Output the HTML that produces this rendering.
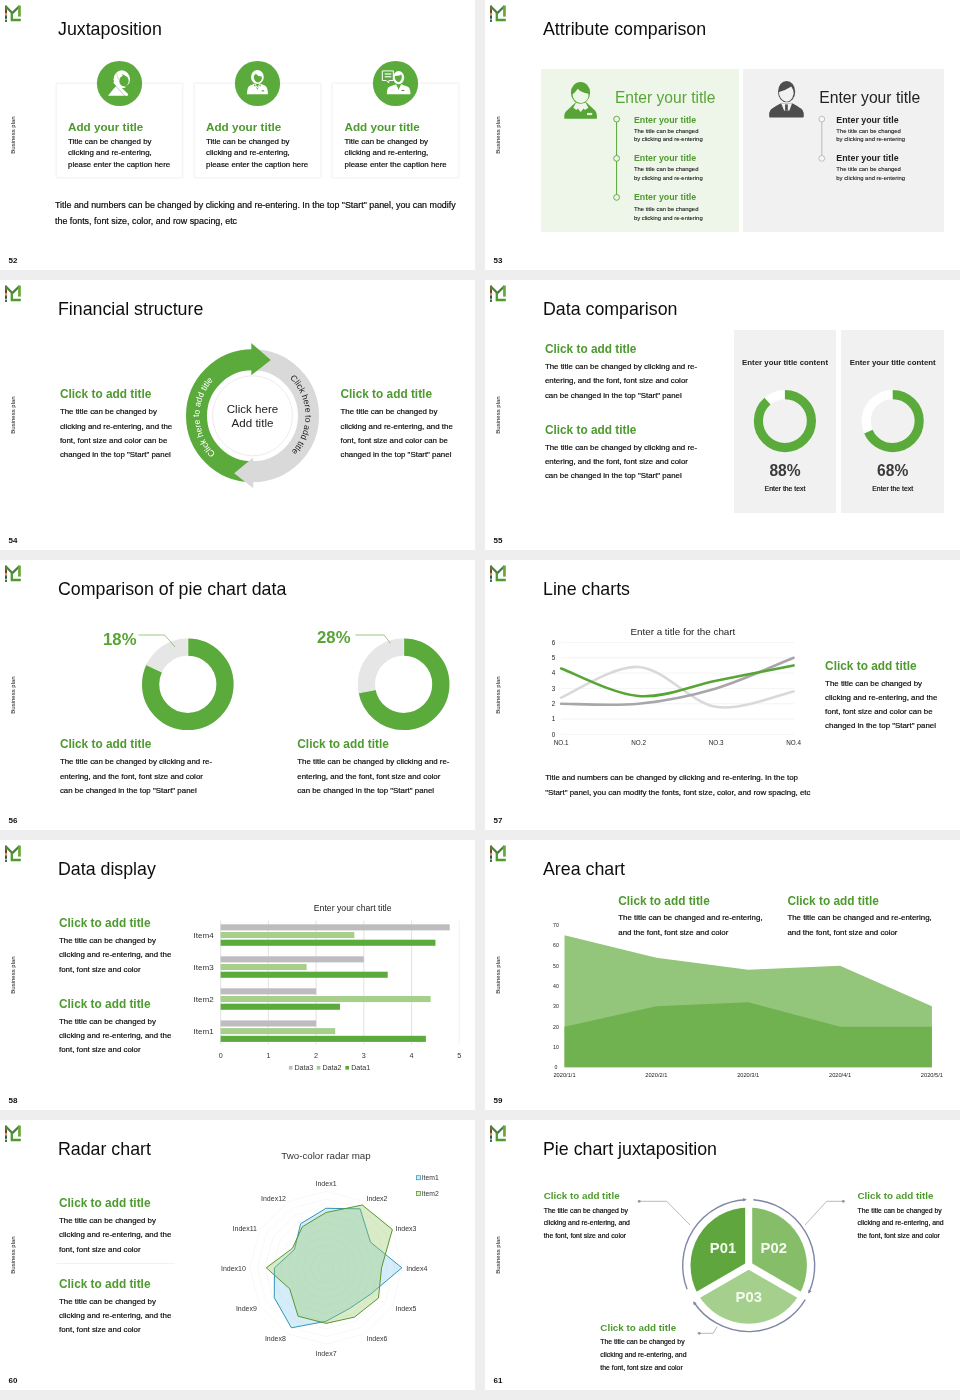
<!DOCTYPE html>
<html><head><meta charset="utf-8"><title>Slides</title>
<style>
html,body{margin:0;padding:0}
body{width:960px;height:1400px;background:#eeeeee;position:relative;overflow:hidden;font-family:"Liberation Sans",sans-serif;color:#111}
.s{position:absolute;width:475px;height:270px;background:#fff;overflow:hidden;will-change:transform}
.s *{position:absolute;white-space:nowrap;margin:0}
.s svg *{position:static}
.t{left:58px;top:19px;font-size:17.8px;line-height:20px;color:#0d0d0d}
.g{color:#4f9a30;font-weight:700;font-size:11.85px;line-height:14px}
.b{font-size:7.9px;line-height:14.3px;color:#151515}
.pn{left:8.5px;top:256.5px;font-size:8px;font-weight:700;line-height:8px;color:#111}
.bp{left:-6.7px;top:132px;width:40px;text-align:center;font-size:6px;line-height:6px;color:#111;transform:rotate(-90deg)}
.lg{left:4px;top:5px;width:18px;height:18px}
.card{top:83px;width:127px;height:94.5px;border:1px solid #f5f5f5;box-sizing:border-box;box-shadow:0 0 2px rgba(0,0,0,.07)}
.circ{top:60.7px;width:45px;height:45px;overflow:visible}
.j{top:120px;font-size:11.7px;line-height:14px}
.jb{top:135.5px;font-size:7.9px;line-height:11.5px;color:#111}
.jp{font-size:8.88px;line-height:15.7px;color:#111}
.at{font-size:8.83px;line-height:10px;font-weight:700}
.ab{font-size:5.9px;line-height:8.5px;color:#222}
.dc{top:77.400px;width:100px;text-align:center;font-size:7.87px;line-height:10px;font-weight:700;color:#222}
.dn{top:181.100px;width:100px;text-align:center;font-size:15.6px;line-height:18px;font-weight:700;color:#3a3a3a}
.de{top:203.500px;width:100px;text-align:center;font-size:6.86px;line-height:9px;color:#222}
.pc{font-size:16.7px;line-height:19px;font-weight:700;color:#58a436}
.b,.jb,.jp,.de{-webkit-text-stroke:.18px #111;color:#000}
.ab{-webkit-text-stroke:.08px #222;color:#111}
.s .g{margin-top:.15px}
.s .at{margin-top:-.2px}
.s .b,.s .ab,.s .dc,.s .dn,.s .de,.s .pc{margin-top:.55px}
</style></head><body>
<svg width="0" height="0" style="position:absolute"><defs>
<g id="logo"><rect x="1" y="0.5" width="2" height="4.5" fill="#6d6a38"/><rect x="1" y="5" width="2" height="3.6" fill="#74481c"/><rect x="1" y="8.600" width="2" height="1.800" fill="#dc9a62"/><rect x="1" y="10.400" width="2" height="3.400" fill="#2f5c48"/><rect x="1" y="14.600" width="2" height="2.300" fill="#3a6a44"/>
<path d="M1.600 1.200 L8.500 8.200" fill="none" stroke="#52803c" stroke-width="2.300"/><path d="M8.200 8.300 L15.600 1" fill="none" stroke="#41803a" stroke-width="2.300"/>
<path d="M15.450 0.600 V11.600" fill="none" stroke="#69a636" stroke-width="2.700"/>
<path d="M7.800 8 V15 H16.800" fill="none" stroke="#4f9a30" stroke-width="2.300"/></g>
</defs></svg>
<div class="s" style="left:0px;top:0px"><svg class="lg" viewBox="0 0 18 18"><use href="#logo"/></svg><div class="t">Juxtaposition</div><div class="bp">Business plan</div><div class="pn">52</div>
<div class="card" style="left:55.5px"></div><div class="card" style="left:194px"></div><div class="card" style="left:332px"></div>
<svg class="circ" style="left:96.9px" viewBox="0 0 45 45"><circle cx="22.5" cy="22.5" r="22.6" fill="#5bab3c"/>
<ellipse cx="24.8" cy="18.3" rx="8.2" ry="9" fill="#fff"/><ellipse cx="27" cy="19.9" rx="4.7" ry="5.3" fill="#5bab3c"/><path d="M24.6 13 l1.400 2 l2.400 -.4z" fill="#5bab3c"/>
<path d="M27.500 25.500 L34 30 L34 22z" fill="#5bab3c"/>
<path d="M11.100 34.700 L16 28.500 L19.200 25 L22.500 26.500 L31.200 34.700z" fill="#fff"/>
<path d="M17 21 L30.500 34" stroke="#fff" stroke-width="2.400" fill="none"/>
<path d="M18.800 25.200 L27.600 34.700" stroke="#5bab3c" stroke-width=".5" fill="none"/><path d="M19.500 12.500 L21.500 18.500" stroke="#5bab3c" stroke-width=".4" fill="none"/></svg>
<svg class="circ" style="left:234.8px" viewBox="0 0 45 45"><circle cx="22.5" cy="22.5" r="22.6" fill="#5bab3c"/>
<ellipse cx="22.4" cy="16" rx="6.4" ry="7" fill="#fff"/><path d="M18.6 15.8 q1.2 -2.4 2.2 -3 q2.2 3 6 2.6 q.4 4.8 -3.6 6.2 q-4 -.6 -4.6 -5.8z" fill="#5bab3c"/>
<path d="M12 33.3 q0 -8 3.5 -9 l4.5 -1.8 l2.4 3.6 l2.4 -3.6 l4.5 1.8 q3.6 1 3.6 9z" fill="#fff"/>
<path d="M19.4 23 l3 4.4 l3 -4.4 l.4 2.6 l-1.6 -.6 l-1.8 4 l-1.8 -4 l-1.6 .6z" fill="#5bab3c"/><rect x="26.6" y="29.4" width="2.6" height=".9" fill="#3d7d2a"/></svg>
<svg class="circ" style="left:373.2px" viewBox="0 0 45 45"><circle cx="22.5" cy="22.5" r="22.6" fill="#5bab3c"/>
<path d="M9.3 9.9 h11 v9.6 h-4.4 l-.2 2.4 l-2.4 -2.4 h-4z" fill="none" stroke="#fff" stroke-width="1"/><rect x="11.7" y="12.4" width="6.6" height="1.2" fill="#fff"/><rect x="11.7" y="15" width="6.6" height="1.4" fill="#fff" opacity=".8"/>
<ellipse cx="25.6" cy="16.6" rx="5.6" ry="6.6" fill="#fff"/><path d="M21.6 16.2 q.6 -1.6 2 -1.4 q2.4 .4 4.8 -1.4 q1.4 5 -2.4 7.8 q-3.6 -.6 -4.4 -5z" fill="#5bab3c"/>
<path d="M13.8 33.2 q0 -7 3.2 -7.8 l6 -2.2 l2.6 5 l2.6 -5 l6 2.2 q3.3 .8 3.3 7.800z" fill="#fff"/><path d="M24.6 24 l1 5.400 l1 -5.400z" fill="#5bab3c"/><rect x="28.6" y="29" width="2.6" height=".9" fill="#3d6d2a"/></svg>
<div class="g j" style="left:68px">Add your title</div><div class="g j" style="left:206px">Add your title</div><div class="g j" style="left:344.5px">Add your title</div>
<div class="jb" style="left:68px">Title can be changed by<br>clicking and re-entering,<br>please enter the caption here</div>
<div class="jb" style="left:206px">Title can be changed by<br>clicking and re-entering,<br>please enter the caption here</div>
<div class="jb" style="left:344.5px">Title can be changed by<br>clicking and re-entering,<br>please enter the caption here</div>
<div class="jp" style="left:55px;top:198.4px">Title and numbers can be changed by clicking and re-entering. In the top "Start" panel, you can modify<br>the fonts, font size, color, and row spacing, etc</div>
</div>
<div class="s" style="left:485px;top:0px"><svg class="lg" viewBox="0 0 18 18"><use href="#logo"/></svg><div class="t">Attribute comparison</div><div class="bp">Business plan</div><div class="pn">53</div>
<div style="left:55.5px;top:68.7px;width:198px;height:163px;background:#eef6ea"></div>
<div style="left:257.6px;top:68.7px;width:201.3px;height:163px;background:#f1f1f1"></div>
<svg style="left:79px;top:82px;width:34px;height:38px;overflow:visible" viewBox="0 0 34 38">
<path d="M0.300 36.800 Q-0.200 31.500 2.200 29.300 L11.500 20.600 L22.500 20.600 L31 28.600 Q33.400 31.500 32.900 36.800 Z" fill="#58a436"/>
<path d="M9.300 25.800 L11.800 21 L21.800 21 L24.400 25.800 L21 28 L19.600 26.400 L16.700 30 L13.800 26.400 L12.400 28 Z" fill="#eef6ea"/>
<rect x="23" y="30.900" width="5.200" height="2.200" fill="#e3f3d6"/>
<ellipse cx="16.500" cy="10.800" rx="9.600" ry="10.900" fill="#58a436"/>
<path d="M8.600 12.600 Q11.500 10 13.800 6.800 Q17.500 11 24.400 11.700 Q25 16 22 19 Q19 21.200 16.500 21 Q13 21 10.500 18 Q8.400 15.500 8.600 12.600Z" fill="#eef6ea"/></svg>
<svg style="left:284px;top:80.750px;width:35px;height:37px;overflow:visible" viewBox="0 0 35 37">
<path d="M0.200 35.500 Q-0.200 31 1.500 29 Q3 27 11.500 22.500 L23.800 22.500 Q32 27 33.500 29 Q35.200 31.500 34.800 35.500 Q34.800 36.400 34 36.400 L1 36.400 Q0.200 36.400 0.200 35.500Z" fill="#4d4d4d"/>
<path d="M12.200 22.400 L15.060 29.400 L20.400 29.400 L23 22.400 Z" fill="#f1f1f1"/><rect x="16.100" y="23.400" width="2.700" height="6.100" fill="#4d4d4d"/>
<ellipse cx="17.600" cy="10.650" rx="8.600" ry="10.700" fill="#4d4d4d"/>
<path d="M10 11 Q16 9.500 22.300 5.400 Q24.600 8.500 24.700 12.500 Q24 17 21 19.500 Q18.500 21 16.500 20.600 Q12 19 10.300 14 Z" fill="#f1f1f1"/></svg>
<div style="left:129.900px;top:89.200px;font-size:15.600px;line-height:18px;color:#5aa53a">Enter your title</div>
<div style="left:334.200px;top:89.200px;font-size:15.700px;line-height:18px;color:#222">Enter your title</div>
<svg style="left:0;top:0;width:475px;height:270px" viewBox="0 0 475 270">
<path d="M131.600 119.100 V197.400" stroke="#58a436" stroke-width="1" fill="none"/>
<circle cx="131.600" cy="119.100" r="2.900" fill="#eef6ea" stroke="#58a436" stroke-width=".9"/><circle cx="131.600" cy="158.400" r="2.900" fill="#eef6ea" stroke="#58a436" stroke-width=".9"/><circle cx="131.600" cy="197.400" r="2.900" fill="#eef6ea" stroke="#58a436" stroke-width=".9"/>
<path d="M336.800 119.100 V158.400" stroke="#b9b9b9" stroke-width="1" fill="none"/>
<circle cx="336.800" cy="119.100" r="2.900" fill="#f6f6f6" stroke="#b9b9b9" stroke-width=".9"/><circle cx="336.800" cy="158.400" r="2.900" fill="#f6f6f6" stroke="#b9b9b9" stroke-width=".9"/></svg>
<div class="at g" style="left:148.900px;top:114.800px">Enter your title</div><div class="ab" style="left:148.900px;top:126.300px">The title can be changed<br>by clicking and re-entering</div>
<div class="at g" style="left:148.900px;top:153.100px">Enter your title</div><div class="ab" style="left:148.900px;top:164.800px">The title can be changed<br>by clicking and re-entering</div>
<div class="at g" style="left:148.900px;top:192.600px">Enter your title</div><div class="ab" style="left:148.900px;top:204.500px">The title can be changed<br>by clicking and re-entering</div>
<div class="at" style="left:351.300px;top:115px;color:#222">Enter your title</div><div class="ab" style="left:351.300px;top:126.300px">The title can be changed<br>by clicking and re-entering</div>
<div class="at" style="left:351.300px;top:153.200px;color:#222">Enter your title</div><div class="ab" style="left:351.300px;top:164.800px">The title can be changed<br>by clicking and re-entering</div>
</div>
<div class="s" style="left:0px;top:280px"><svg class="lg" viewBox="0 0 18 18"><use href="#logo"/></svg><div class="t">Financial structure</div><div class="bp">Business plan</div><div class="pn">54</div>
<div class="g" style="left:59.900px;top:107.100px">Click to add title</div>
<div class="b" style="left:59.900px;top:124.800px">The title can be changed by<br>clicking and re-entering, and the<br>font, font size and color can be<br>changed in the top "Start" panel</div>
<div class="g" style="left:340.500px;top:107.100px">Click to add title</div>
<div class="b" style="left:340.500px;top:124.800px">The title can be changed by<br>clicking and re-entering, and the<br>font, font size and color can be<br>changed in the top "Start" panel</div>
<svg style="left:0;top:0;width:475px;height:270px" viewBox="0 0 475 270">
<defs><path id="arcL" d="M252.500 188.800 A53 53 0 0 1 252.500 82.800"/><path id="arcR" d="M252.500 82.800 A53 53 0 0 1 252.500 188.800"/></defs>
<circle cx="252.500" cy="135.800" r="40" fill="none" stroke="#ebe4ea" stroke-width=".8"/>
<path d="M252.500 79.800 A56 56 0 0 1 252.500 191.800" fill="none" stroke="#d9d9d9" stroke-width="21"/>
<path d="M252.500 191.800 A56 56 0 0 1 252.500 79.800" fill="none" stroke="#5bab3c" stroke-width="21"/>
<path d="M251.300 63 L270.800 80 L251.300 95.300 Z" fill="#5bab3c"/>
<path d="M253.200 177.500 L234.200 193.300 L253.200 208.300 Z" fill="#d9d9d9"/>
<text font-size="8.7" fill="#fff" text-anchor="middle"><textPath href="#arcL" startOffset="49%">Click here to add title</textPath></text>
<text font-size="8.7" fill="#222" text-anchor="middle"><textPath href="#arcR" startOffset="49.300%">Click here to add title</textPath></text>
</svg>
<div style="left:202.500px;top:121.600px;width:100px;text-align:center;font-size:11.600px;line-height:14.700px;color:#222">Click here<br>Add title</div>
</div>
<div class="s" style="left:485px;top:280px"><svg class="lg" viewBox="0 0 18 18"><use href="#logo"/></svg><div class="t">Data comparison</div><div class="bp">Business plan</div><div class="pn">55</div>
<div class="g" style="left:59.900px;top:62.100px">Click to add title</div>
<div class="b" style="left:59.900px;top:79.900px;line-height:14.050px">The title can be changed by clicking and re-<br>entering, and the font, font size and color<br>can be changed in the top "Start" panel</div>
<div class="g" style="left:59.900px;top:142.700px">Click to add title</div>
<div class="b" style="left:59.900px;top:160.500px;line-height:14.050px">The title can be changed by clicking and re-<br>entering, and the font, font size and color<br>can be changed in the top "Start" panel</div>
<div style="left:249.100px;top:49.600px;width:102.300px;height:183.300px;background:#f1f1f1"></div>
<div style="left:356.200px;top:49.600px;width:103px;height:183.300px;background:#f1f1f1"></div>
<div class="dc" style="left:250px">Enter your title content</div><div class="dc" style="left:357.700px">Enter your title content</div>
<svg style="left:0;top:0;width:475px;height:270px" viewBox="0 0 475 270">
<circle cx="299.900" cy="141.100" r="26.500" fill="none" stroke="#fff" stroke-width="9.200"/>
<circle cx="299.900" cy="141.100" r="26.500" fill="none" stroke="#5bab3c" stroke-width="9.200" stroke-dasharray="146.520 166.500" transform="rotate(-90 299.900 141.100)"/>
<circle cx="407.700" cy="141.100" r="26.500" fill="none" stroke="#fff" stroke-width="9.200"/>
<circle cx="407.700" cy="141.100" r="26.500" fill="none" stroke="#5bab3c" stroke-width="9.200" stroke-dasharray="113.220 166.500" transform="rotate(-90 407.700 141.100)"/>
</svg>
<div class="dn" style="left:250px">88%</div><div class="dn" style="left:357.700px">68%</div>
<div class="de" style="left:250px">Enter the text</div><div class="de" style="left:357.700px">Enter the text</div>
</div>
<div class="s" style="left:0px;top:560px"><svg class="lg" viewBox="0 0 18 18"><use href="#logo"/></svg><div class="t">Comparison of pie chart data</div><div class="bp">Business plan</div><div class="pn">56</div>
<svg style="left:0;top:0;width:475px;height:270px" viewBox="0 0 475 270">
<circle cx="187.8" cy="124.3" r="37.2" fill="none" stroke="#e6e6e6" stroke-width="17.2"/>
<circle cx="187.8" cy="124.3" r="37.2" fill="none" stroke="#5bab3c" stroke-width="17.2" stroke-dasharray="191.66 233.73" transform="rotate(-90 187.8 124.3)"/>
<path d="M187.8 77.5 V96.69999999999999 M162.83 112.55 L145.45 104.37" stroke="#fff" stroke-width=".8"/>
<circle cx="403.65" cy="124.3" r="37.2" fill="none" stroke="#e6e6e6" stroke-width="17.2"/>
<circle cx="403.65" cy="124.3" r="37.2" fill="none" stroke="#5bab3c" stroke-width="17.2" stroke-dasharray="168.29 233.73" transform="rotate(-90 403.65 124.3)"/>
<path d="M403.65 77.5 V96.69999999999999 M376.54 129.47 L357.68 133.07" stroke="#fff" stroke-width=".8"/>
<path d="M138.500 75 H164.600 L175 87" fill="none" stroke="#58a436" stroke-width=".6"/>
<path d="M355.400 75 H384.200 L390.400 83.300" fill="none" stroke="#58a436" stroke-width=".6"/>
</svg>
<div class="pc" style="left:103.100px;top:69.700px">18%</div><div class="pc" style="left:317.100px;top:67px">28%</div>
<div class="g" style="left:59.900px;top:176.800px">Click to add title</div>
<div class="b" style="left:59.900px;top:194.800px;line-height:14.150px">The title can be changed by clicking and re-<br>entering, and the font, font size and color<br>can be changed in the top "Start" panel</div>
<div class="g" style="left:297.300px;top:176.800px">Click to add title</div>
<div class="b" style="left:297.300px;top:194.800px;line-height:14.150px">The title can be changed by clicking and re-<br>entering, and the font, font size and color<br>can be changed in the top "Start" panel</div>
</div>
<div class="s" style="left:485px;top:560px"><svg class="lg" viewBox="0 0 18 18"><use href="#logo"/></svg><div class="t">Line charts</div><div class="bp">Business plan</div><div class="pn">57</div>
<svg style="left:0;top:0;width:475px;height:270px" viewBox="0 0 475 270">
<path d="M76 174.40 H309" stroke="#ededed" stroke-width=".6"/><path d="M76 159.07 H309" stroke="#ededed" stroke-width=".6"/><path d="M76 143.74 H309" stroke="#ededed" stroke-width=".6"/><path d="M76 128.41 H309" stroke="#ededed" stroke-width=".6"/><path d="M76 113.08 H309" stroke="#ededed" stroke-width=".6"/><path d="M76 97.75 H309" stroke="#ededed" stroke-width=".6"/><path d="M76 82.42 H309" stroke="#ededed" stroke-width=".6"/>
<path d="M76.10 137.61 C89.02 132.50 127.77 105.41 153.60 106.95 C179.43 108.48 205.27 142.72 231.10 146.81 C256.93 150.89 295.68 134.03 308.60 131.48" fill="none" stroke="#d9d9d9" stroke-width="2.6" stroke-linecap="round"/>
<path d="M76.10 143.74 C89.02 143.74 127.77 146.30 153.60 143.74 C179.43 141.19 205.27 136.07 231.10 128.41 C256.93 120.74 295.68 102.86 308.60 97.75" fill="none" stroke="#a9a6ab" stroke-width="2.6" stroke-linecap="round"/>
<path d="M76.10 108.48 C89.02 113.08 127.77 134.03 153.60 136.07 C179.43 138.12 205.27 125.86 231.10 120.75 C256.93 115.64 295.68 107.97 308.60 105.42" fill="none" stroke="#58a436" stroke-width="2.6" stroke-linecap="round"/>
<g font-size="6.3" fill="#222" text-anchor="middle"><text x="68.4" y="176.60">0</text><text x="68.4" y="161.27">1</text><text x="68.4" y="145.94">2</text><text x="68.4" y="130.61">3</text><text x="68.4" y="115.28">4</text><text x="68.4" y="99.95">5</text><text x="68.4" y="84.62">6</text><text x="76.10" y="185.2">NO.1</text><text x="153.60" y="185.2">NO.2</text><text x="231.10" y="185.2">NO.3</text><text x="308.60" y="185.2">NO.4</text></g>
<text x="197.900" y="74.800" font-size="9.840" fill="#222" text-anchor="middle">Enter a title for the chart</text>
</svg>
<div class="g" style="left:340.100px;top:98.600px">Click to add title</div>
<div class="b" style="left:340.100px;top:116px">The title can be changed by<br>clicking and re-entering, and the<br>font, font size and color can be<br>changed in the top "Start" panel</div>
<div class="b" style="left:60.200px;top:210.800px;line-height:14.700px">Title and numbers can be changed by clicking and re-entering. In the top<br>"Start" panel, you can modify the fonts, font size, color, and row spacing, etc</div>
</div>
<div class="s" style="left:0px;top:840px"><svg class="lg" viewBox="0 0 18 18"><use href="#logo"/></svg><div class="t">Data display</div><div class="bp">Business plan</div><div class="pn">58</div>
<svg style="left:0;top:0;width:475px;height:270px" viewBox="0 0 475 270">
<path d="M220.65 80.7 V204.5" stroke="#d4d4d4" stroke-width=".7"/><path d="M268.38 80.7 V204.5" stroke="#d4d4d4" stroke-width=".7"/><path d="M316.11 80.7 V204.5" stroke="#d4d4d4" stroke-width=".7"/><path d="M363.84 80.7 V204.5" stroke="#d4d4d4" stroke-width=".7"/><path d="M411.57 80.7 V204.5" stroke="#d4d4d4" stroke-width=".7"/><path d="M459.30 80.7 V204.5" stroke="#ececec" stroke-width=".7"/>
<rect x="220.65" y="84.30" width="229.10" height="6.1" fill="#bfbcc0"/><rect x="220.65" y="92.00" width="133.64" height="6.1" fill="#a5cf8b"/><rect x="220.65" y="99.70" width="214.78" height="6.1" fill="#5bab3c"/>
<rect x="220.65" y="116.30" width="143.19" height="6.1" fill="#bfbcc0"/><rect x="220.65" y="124.00" width="85.91" height="6.1" fill="#a5cf8b"/><rect x="220.65" y="131.70" width="167.05" height="6.1" fill="#5bab3c"/>
<rect x="220.65" y="148.30" width="95.46" height="6.1" fill="#bfbcc0"/><rect x="220.65" y="156.00" width="210.01" height="6.1" fill="#a5cf8b"/><rect x="220.65" y="163.70" width="119.32" height="6.1" fill="#5bab3c"/>
<rect x="220.65" y="180.40" width="95.46" height="6.1" fill="#bfbcc0"/><rect x="220.65" y="188.10" width="114.55" height="6.1" fill="#a5cf8b"/><rect x="220.65" y="195.80" width="205.24" height="6.1" fill="#5bab3c"/>
<g font-size="8.07" fill="#333" text-anchor="end"><text x="213.7" y="97.80">Item4</text><text x="213.7" y="129.80">Item3</text><text x="213.7" y="161.80">Item2</text><text x="213.7" y="193.90">Item1</text></g>
<g font-size="7.2" fill="#333" text-anchor="middle"><text x="220.65" y="217.7">0</text><text x="268.38" y="217.7">1</text><text x="316.11" y="217.7">2</text><text x="363.84" y="217.7">3</text><text x="411.57" y="217.7">4</text><text x="459.30" y="217.7">5</text></g>
<g font-size="7.1" fill="#333"><rect x="288.9" y="226" width="3.6" height="3.6" fill="#bfbcc0"/><text x="294.4" y="230.4">Data3</text><rect x="316.7" y="226" width="3.6" height="3.6" fill="#a5cf8b"/><text x="322.5" y="230.4">Data2</text><rect x="345.4" y="226" width="3.6" height="3.6" fill="#5bab3c"/><text x="351.2" y="230.4">Data1</text></g>
<text x="352.700" y="70.700" font-size="8.700" fill="#222" text-anchor="middle">Enter your chart title</text>
</svg>
<div class="g" style="left:59px;top:75.800px">Click to add title</div>
<div class="b" style="left:59px;top:93.560px;line-height:14.200px">The title can be changed by<br>clicking and re-entering, and the<br>font, font size and color</div>
<div class="g" style="left:59px;top:156.400px">Click to add title</div>
<div class="b" style="left:59px;top:174.060px;line-height:14.200px">The title can be changed by<br>clicking and re-entering, and the<br>font, font size and color</div>
</div>
<div class="s" style="left:485px;top:840px"><svg class="lg" viewBox="0 0 18 18"><use href="#logo"/></svg><div class="t">Area chart</div><div class="bp">Business plan</div><div class="pn">59</div>
<svg style="left:0;top:0;width:475px;height:270px" viewBox="0 0 475 270">
<path d="M79.50 227.25 L79.50 95.30 L171.35 117.63 L263.20 129.81 L355.05 125.75 L446.90 166.35 L446.90 227.25 Z" fill="#93c57a"/>
<path d="M79.50 227.25 L79.50 186.65 L171.35 166.35 L263.20 162.29 L355.05 186.65 L446.90 186.65 L446.90 227.25 Z" fill="#70b250"/>
<g font-size="5.2" fill="#222" text-anchor="middle"><text x="71" y="229.15">0</text><text x="71" y="208.85">10</text><text x="71" y="188.55">20</text><text x="71" y="168.25">30</text><text x="71" y="147.95">40</text><text x="71" y="127.65">50</text><text x="71" y="107.35">60</text><text x="71" y="87.05">70</text></g>
<g font-size="5.7" fill="#222" text-anchor="middle"><text x="79.50" y="236.8">2020/1/1</text><text x="171.35" y="236.8">2020/2/1</text><text x="263.20" y="236.8">2020/3/1</text><text x="355.05" y="236.8">2020/4/1</text><text x="446.90" y="236.8">2020/5/1</text></g>
</svg>
<div class="g" style="left:133.250px;top:53.400px">Click to add title</div>
<div class="b" style="left:133.250px;top:70.900px;line-height:14.250px">The title can be changed and re-entering,<br>and the font, font size and color</div>
<div class="g" style="left:302.400px;top:53.400px">Click to add title</div>
<div class="b" style="left:302.400px;top:70.900px;line-height:14.250px">The title can be changed and re-entering,<br>and the font, font size and color</div>
</div>
<div class="s" style="left:0px;top:1120px"><svg class="lg" viewBox="0 0 18 18"><use href="#logo"/></svg><div class="t">Radar chart</div><div class="bp">Business plan</div><div class="pn">60</div>
<svg style="left:0;top:0;width:475px;height:270px" viewBox="0 0 475 270">
<g fill="none" stroke="#eef0ee" stroke-width=".5"><polygon points="326.06,140.16 329.88,141.18 332.68,143.98 333.70,147.80 332.68,151.62 329.88,154.42 326.06,155.44 322.24,154.42 319.44,151.62 318.42,147.80 319.44,143.98 322.24,141.18"/><polygon points="326.06,132.52 333.70,134.57 339.29,140.16 341.34,147.80 339.29,155.44 333.70,161.03 326.06,163.08 318.42,161.03 312.83,155.44 310.78,147.80 312.83,140.16 318.42,134.57"/><polygon points="326.06,124.88 337.52,127.95 345.91,136.34 348.98,147.80 345.91,159.26 337.52,167.65 326.06,170.72 314.60,167.65 306.21,159.26 303.14,147.80 306.21,136.34 314.60,127.95"/><polygon points="326.06,117.24 341.34,121.33 352.53,132.52 356.62,147.80 352.53,163.08 341.34,174.27 326.06,178.36 310.78,174.27 299.59,163.08 295.50,147.80 299.59,132.52 310.78,121.33"/><polygon points="326.06,109.60 345.16,114.72 359.14,128.70 364.26,147.80 359.14,166.90 345.16,180.88 326.06,186.00 306.96,180.88 292.98,166.90 287.86,147.80 292.98,128.70 306.96,114.72"/><polygon points="326.06,101.96 348.98,108.10 365.76,124.88 371.90,147.80 365.76,170.72 348.98,187.50 326.06,193.64 303.14,187.50 286.36,170.72 280.22,147.80 286.36,124.88 303.14,108.10"/><polygon points="326.06,94.32 352.80,101.48 372.38,121.06 379.54,147.80 372.38,174.54 352.80,194.12 326.06,201.28 299.32,194.12 279.74,174.54 272.58,147.80 279.74,121.06 299.32,101.48"/><polygon points="326.06,86.68 356.62,94.87 378.99,117.24 387.18,147.80 378.99,178.36 356.62,200.73 326.06,208.92 295.50,200.73 273.13,178.36 264.94,147.80 273.13,117.24 295.50,94.87"/><polygon points="326.06,79.04 360.44,88.25 385.61,113.42 394.82,147.80 385.61,182.18 360.44,207.35 326.06,216.56 291.68,207.35 266.51,182.18 257.30,147.80 266.51,113.42 291.68,88.25"/><polygon points="326.06,71.40 364.26,81.64 392.22,109.60 402.46,147.80 392.22,186.00 364.26,213.96 326.06,224.20 287.86,213.96 259.90,186.00 249.66,147.80 259.90,109.60 287.86,81.64"/></g>
<polygon points="326.06,88.30 360.11,88.82 370.49,122.15 401.86,147.80 371.09,173.80 349.56,188.50 326.06,201.30 291.41,207.82 274.27,177.70 274.46,147.80 294.45,129.55 300.61,103.72" fill="rgba(120,200,235,.32)" stroke="#3495b6" stroke-width="1"/>
<polygon points="326.06,92.50 362.31,85.01 392.40,109.50 381.56,147.80 378.45,178.05 354.51,197.08 326.06,203.40 298.11,196.21 289.69,168.80 266.26,147.80 292.37,128.35 302.36,106.75" fill="rgba(150,200,100,.36)" stroke="#5c9632" stroke-width="1"/>
<g font-size="7" fill="#333" text-anchor="middle"><text x="326.06" y="65.80">Index1</text><text x="377" y="80.70">Index2</text><text x="406" y="110.50">Index3</text><text x="416.8" y="150.60">Index4</text><text x="406" y="191.20">Index5</text><text x="377" y="221.00">Index6</text><text x="326.06" y="235.90">Index7</text><text x="275.4" y="221.00">Index8</text><text x="246.4" y="191.20">Index9</text><text x="233.4" y="150.60">Index10</text><text x="244.8" y="110.50">Index11</text><text x="273.5" y="80.70">Index12</text></g>
<text x="326" y="39.100" font-size="9.750" fill="#333" text-anchor="middle">Two-color radar map</text>
<rect x="416.500" y="55.700" width="4" height="4" fill="#d4eef8" stroke="#3c9cbd" stroke-width=".8"/><text x="421.700" y="60.300" font-size="6.800" fill="#333">Item1</text><rect x="416.500" y="71.400" width="4" height="4" fill="#deeec8" stroke="#5c9a32" stroke-width=".8"/><text x="421.700" y="76" font-size="6.800" fill="#333">Item2</text>
<path d="M56.500 143.500 H175" stroke="#e9e9e9" stroke-width=".6"/>
</svg>
<div class="g" style="left:59px;top:75.800px">Click to add title</div>
<div class="b" style="left:59px;top:93.560px;line-height:14.200px">The title can be changed by<br>clicking and re-entering, and the<br>font, font size and color</div>
<div class="g" style="left:59px;top:156.400px">Click to add title</div>
<div class="b" style="left:59px;top:174.060px;line-height:14.200px">The title can be changed by<br>clicking and re-entering, and the<br>font, font size and color</div>
</div>
<div class="s" style="left:485px;top:1120px"><svg class="lg" viewBox="0 0 18 18"><use href="#logo"/></svg><div class="t">Pie chart juxtaposition</div><div class="bp">Business plan</div><div class="pn">61</div>
<svg style="left:0;top:0;width:475px;height:270px" viewBox="0 0 475 270">
<path d="M263.7 145.6 L213.30 174.70 A58.2 58.2 0 0 1 263.70 87.40 Z" fill="#5fa63f"/><path d="M263.7 145.6 L263.70 87.40 A58.2 58.2 0 0 1 314.10 174.70 Z" fill="#86bd69"/><path d="M263.7 145.6 L314.10 174.70 A58.2 58.2 0 0 1 213.30 174.70 Z" fill="#a4cf8d"/>
<path d="M263.7 145.6 L263.70 85.40" stroke="#fff" stroke-width="7"/><path d="M263.7 145.6 L315.83 175.70" stroke="#fff" stroke-width="7"/><path d="M263.7 145.6 L211.57 175.70" stroke="#fff" stroke-width="7"/>
<path d="M202.08 169.25 A66 66 0 0 1 260.25 79.69" fill="none" stroke="#7f87a5" stroke-width="1.4"/><path d="M261.74 79.61 L257.95 78.01 L258.14 81.60 Z" fill="#7f87a5"/><path d="M268.30 79.76 A66 66 0 0 1 323.99 172.44" fill="none" stroke="#7f87a5" stroke-width="1.4"/><path d="M323.38 173.81 L326.53 171.17 L323.24 169.70 Z" fill="#7f87a5"/><path d="M320.27 179.59 A66 66 0 0 1 208.98 182.51" fill="none" stroke="#7f87a5" stroke-width="1.4"/><path d="M208.14 181.26 L208.72 185.34 L211.71 183.32 Z" fill="#7f87a5"/>
<g fill="none" stroke="#a6a8b4" stroke-width=".8"><path d="M154.200 81.300 H181.700 L205 105"/><path d="M358.300 81.300 H341.700 L320 105"/><path d="M214.200 213.300 H228.300 L232 206.700"/></g>
<g fill="#8f93a6"><circle cx="154.200" cy="81.300" r="1.400"/><circle cx="358.300" cy="81.300" r="1.400"/><circle cx="214.200" cy="213.300" r="1.400"/></g>
<g font-size="14.800" font-weight="700" fill="#f4faef" text-anchor="middle"><text x="238" y="133.400">P01</text><text x="288.750" y="133.400">P02</text><text x="263.750" y="182.300">P03</text></g>
</svg>
<div class="g" style="left:58.7px;top:70.1px;font-size:9.84px;line-height:12px">Click to add title</div><div class="b" style="left:58.7px;top:84.05px;font-size:6.86px;line-height:12.85px">The title can be changed by<br>clicking and re-entering, and<br>the font, font size and color</div>
<div class="g" style="left:372.5px;top:70.1px;font-size:9.84px;line-height:12px">Click to add title</div><div class="b" style="left:372.5px;top:84.05px;font-size:6.86px;line-height:12.85px">The title can be changed by<br>clicking and re-entering, and<br>the font, font size and color</div>
<div class="g" style="left:115.3px;top:201.4px;font-size:9.84px;line-height:12px">Click to add title</div><div class="b" style="left:115.3px;top:215.45px;font-size:6.86px;line-height:12.85px">The title can be changed by<br>clicking and re-entering, and<br>the font, font size and color</div>
</div>

</body></html>
